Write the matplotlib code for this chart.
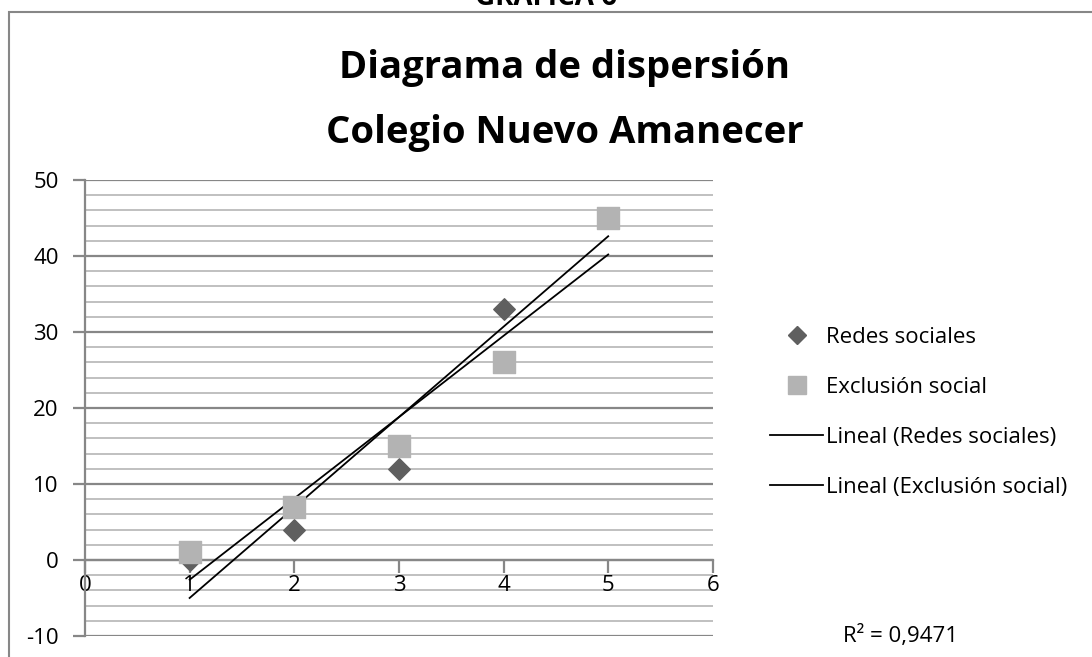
import numpy as np
import matplotlib.pyplot as plt
from matplotlib.patches import Rectangle
from matplotlib.lines import Line2D

plt.rcParams['font.family'] = ['Open Sans', 'DejaVu Sans']
plt.rcParams['axes.unicode_minus'] = False

# data
x_vals = [1, 2, 3, 4, 5]
redes = [0, 4, 12, 33, 45]
exclusion = [1, 7, 15, 26, 45]

fig = plt.figure(figsize=(10.92, 6.57), dpi=100)
ax = fig.add_axes([0.0778, 0.032, 0.575, 0.694])

# outer chart border (cut at right and bottom like the source)
fig.patches.append(Rectangle((0.008, -0.1), 1.2, 1.082, transform=fig.transFigure,
                             fill=False, edgecolor='#878787', linewidth=1.5))
fig.text(0.5, 0.993, 'GRAFICA 6', ha='center', va='baseline',
         fontsize=20, fontweight='bold')
fig.text(0.517, 0.897, 'Diagrama de dispersión', ha='center', va='center',
         fontsize=27.5, fontweight='bold')
fig.text(0.517, 0.797, 'Colegio Nuevo Amanecer', ha='center', va='center',
         fontsize=27.5, fontweight='bold')

# grid: minor every 2, major every 10
for yv in np.arange(-10, 51, 2):
    major = yv % 10 == 0
    ax.axhline(yv, color='#878787' if major else '#c0c0c0',
               linewidth=1.6 if major else 1.4, zorder=0)

# trend lines
fits = {}
for name, ys in [('Redes sociales', redes), ('Exclusión social', exclusion)]:
    p = np.polyfit(x_vals, ys, 1)
    fits[name] = p
    xs = np.array([x_vals[0], x_vals[-1]])
    ax.plot(xs, np.polyval(p, xs), color='black', linewidth=1.3, zorder=3)

ax.scatter(x_vals, redes, marker='D', s=120, color='#5f5f5f', zorder=4)
ax.scatter(x_vals, exclusion, marker='s', s=270, color='#b3b3b3', zorder=5)

ax.set_xlim(0, 6)
ax.set_ylim(-10, 50)
ax.set_yticks(range(-10, 51, 10))
ax.set_xticks(range(0, 7))
for s in ['top', 'right']:
    ax.spines[s].set_visible(False)
ax.spines['bottom'].set_position(('data', 0))
ax.spines['bottom'].set_color('#878787')
ax.spines['bottom'].set_linewidth(1.6)
ax.spines['left'].set_color('#878787')
ax.spines['left'].set_linewidth(1.6)
ax.tick_params(axis='y', length=9, width=1.6, color='#878787', labelsize=16, pad=10)
ax.tick_params(axis='x', length=9, width=1.6, color='#878787', labelsize=16, pad=2)
ax.patch.set_visible(False)

# legend
handles = [
    Line2D([], [], marker='D', linestyle='none', color='#5f5f5f', markersize=9),
    Line2D([], [], marker='s', linestyle='none', color='#b3b3b3', markersize=13),
    Line2D([], [], color='black', linewidth=1.3),
    Line2D([], [], color='black', linewidth=1.3),
]
labels = ['Redes sociales', 'Exclusión social',
          'Lineal (Redes sociales)', 'Lineal (Exclusión social)']
fig.legend(handles, labels, loc='upper left', bbox_to_anchor=(0.695, 0.519),
           frameon=False, fontsize=16, handlelength=2.4, handletextpad=0.1,
           labelspacing=1.3, borderpad=0)

# R² of the Exclusión social fit
p = fits['Exclusión social']
ye = np.array(exclusion)
pred = np.polyval(p, x_vals)
r2 = 1 - np.sum((ye - pred) ** 2) / np.sum((ye - ye.mean()) ** 2)
fig.text(0.825, 0.032, 'R² = ' + f'{r2:.4f}'.replace('.', ','), ha='center',
         va='center', fontsize=16)

fig.savefig('out.png', dpi=100)
